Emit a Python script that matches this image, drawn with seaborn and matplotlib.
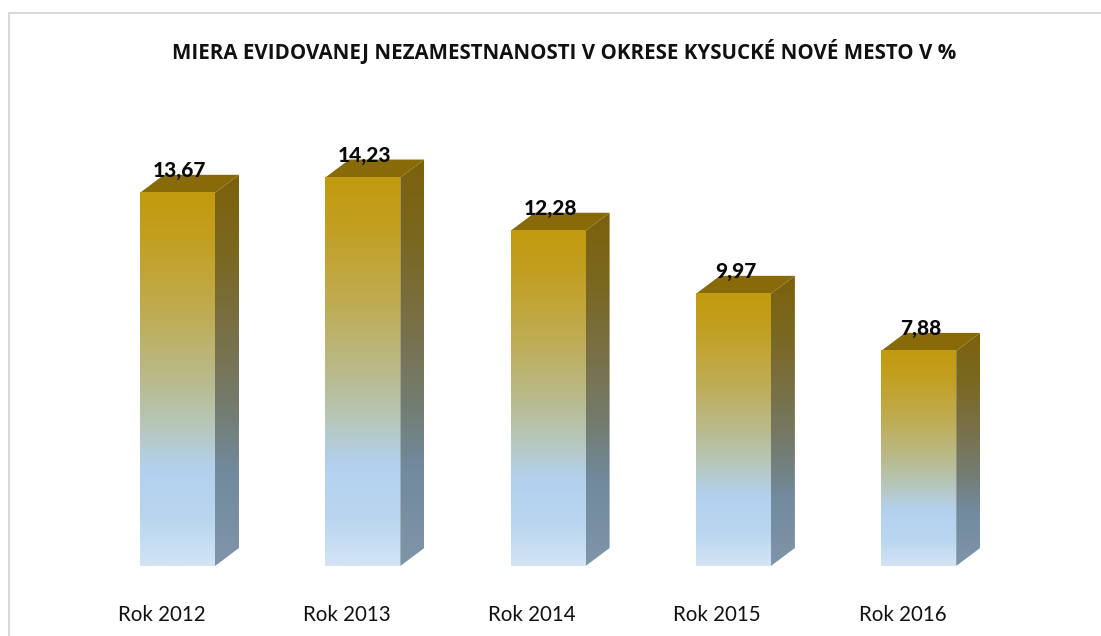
import numpy as np
import pandas as pd
import matplotlib
matplotlib.use("Agg")
import matplotlib.pyplot as plt
from matplotlib.colors import LinearSegmentedColormap
from matplotlib.patches import Polygon, Rectangle
import seaborn as sns

categories = ["Rok 2012", "Rok 2013", "Rok 2014", "Rok 2015", "Rok 2016"]
values = [13.67, 14.23, 12.28, 9.97, 7.88]
value_labels = ["13,67", "14,23", "12,28", "9,97", "7,88"]
title = "MIERA EVIDOVANEJ NEZAMESTNANOSTI V OKRESE KYSUCKÉ NOVÉ MESTO V %"

W, H = 1101, 636
sns.set_theme(style="white")
plt.rcParams["font.family"] = ["Lato", "DejaVu Sans"]

fig = plt.figure(figsize=(W / 100, H / 100), dpi=100, facecolor="white")
# axes: category band 185.3 px, baseline y=566 px, 27.3 px per unit
left, right, bottom, top = 84.85, 1011.35, 566, 100
ax = fig.add_axes([left / W, 1 - bottom / H, (right - left) / W, (bottom - top) / H])
df = pd.DataFrame({"year": categories, "value": values})
BAR_W = 75 / 185.3
sns.barplot(data=df, x="year", y="value", width=BAR_W, color="#C49A0C", ax=ax, saturation=1, zorder=1)
ax.set_xlim(-0.5, 4.5)
ax.set_ylim(0, (bottom - top) / 27.3)
DX, DY = 24 / 185.3, 18 / 27.3

front_cmap = LinearSegmentedColormap.from_list("front", [
    (0, "#C39A0E"), (0.12, "#C29F20"), (0.32, "#BFAC52"),
    (0.5, "#B9BA8C"), (0.62, "#B6C6B8"), (0.74, "#B3D1EE"), (0.88, "#BAD6EF"), (1, "#D3E4F5")])
side_cmap = LinearSegmentedColormap.from_list("side", [
    (0, "#7B610C"), (0.2, "#7A6820"), (0.42, "#78714A"),
    (0.6, "#747C70"), (0.76, "#728A9E"), (1, "#7F95A8")])
top_color = "#896A08"
grad = np.linspace(0, 1, 256).reshape(-1, 1)

for i, (bar, v, lab) in enumerate(zip(ax.patches, values, value_labels)):
    x0 = bar.get_x()
    x1 = x0 + bar.get_width()
    bar.set_visible(False)
    # front face
    ax.imshow(grad, cmap=front_cmap, aspect="auto", extent=(x0, x1, 0, v), zorder=3,
              interpolation="bilinear")
    # side face
    side = Polygon([(x1, 0), (x1 + DX, DY), (x1 + DX, v + DY), (x1, v)], closed=True,
                   transform=ax.transData, fc="none", ec="none")
    ax.add_patch(side)
    im = ax.imshow(grad, cmap=side_cmap, aspect="auto", extent=(x1, x1 + DX, 0, v + DY), zorder=2,
                   interpolation="bilinear")
    im.set_clip_path(side)
    # top face
    ax.add_patch(Polygon([(x0, v), (x1, v), (x1 + DX, v + DY), (x0 + DX, v + DY)], closed=True,
                         fc=top_color, ec="none", zorder=2.5))
    # data label
    ax.annotate(lab, xy=(i, v), xytext=(2, 22), textcoords="offset pixels", ha="center", va="center",
                fontsize=15, fontweight=900, color="#0A0A0A", zorder=5)

ax.set_xlim(-0.5, 4.5)
ax.set_ylim(0, (bottom - top) / 27.3)
ax.set_xlabel("")
ax.set_ylabel("")
ax.set_yticks([])
ax.set_xticks([i - 0.087 for i in range(len(categories))])
ax.set_xticklabels(categories, fontsize=14.8, color="#111111")
ax.tick_params(axis="x", length=0, pad=28)
sns.despine(ax=ax, left=True, bottom=True)
ax.patch.set_alpha(0)

# chart frame: the top and left edges show, the others run off the picture
fig.add_artist(Rectangle((9 / W, -0.02), 1.1, 1 - 13 / H + 0.02, transform=fig.transFigure,
                         fc="none", ec="#D9D9D9", lw=1.5))
t = fig.text(564 / W, 1 - 52 / H, title, ha="center", va="center", fontsize=14.8,
             fontweight="bold", color="#111111", family=["Open Sans", "DejaVu Sans"])
fig.savefig("out.png", dpi=100)
